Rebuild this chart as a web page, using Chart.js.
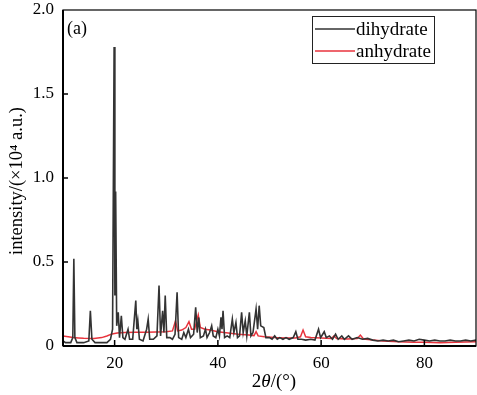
<!DOCTYPE html>
<html>
<head>
<meta charset="utf-8">
<script src="https://cdn.jsdelivr.net/npm/chart.js@4"></script>
<style>
  body { margin: 0; background: #fff; }
  #wrap { width: 477px; height: 395px; }
</style>
</head>
<body>
<div id="wrap"><canvas id="c" width="477" height="395"></canvas></div>
<script>
// values (2theta in degrees, intensity in 1e4 a.u.)
const dihydrateX = [10.0,10.5,11.5,11.9,12.1,12.3,12.7,14.0,15.0,15.3,15.6,16.2,17.0,18.5,19.2,19.6,19.9,20.05,20.2,20.4,20.7,20.95,21.3,21.6,22.0,22.6,22.9,23.5,24.1,24.3,24.5,24.8,25.5,26.2,26.5,26.8,27.5,28.2,28.6,28.9,29.3,29.55,29.8,30.1,30.7,31.2,31.7,32.1,32.4,33.0,33.4,33.8,34.3,34.7,35.3,35.7,36.0,36.3,36.6,37.2,37.6,37.9,38.4,38.8,39.1,39.6,40.0,40.3,40.6,40.8,41.0,41.3,41.8,42.3,42.8,43.1,43.5,43.8,44.2,44.6,44.9,45.3,45.6,46.1,46.4,46.8,47.1,47.4,47.7,48.0,48.3,48.9,49.3,50.0,50.5,51.0,51.5,52.0,52.6,53.2,53.8,54.6,55.1,55.5,56.2,57.0,58.0,58.8,59.5,59.9,60.6,61.0,61.6,62.2,62.8,63.3,64.0,64.5,65.3,66.0,67.0,68.0,69.0,70.0,71.0,72.0,73.0,74.0,75.0,76.0,77.0,78.0,79.0,80.0,81.0,82.0,83.0,84.0,85.0,86.0,87.0,88.0,89.0,90.0];
const dihydrateY = [0.03,0.02,0.02,0.05,0.52,0.05,0.02,0.02,0.03,0.21,0.04,0.02,0.02,0.02,0.04,0.1,1.78,0.3,0.92,0.12,0.2,0.05,0.18,0.05,0.04,0.1,0.04,0.04,0.27,0.1,0.15,0.04,0.03,0.1,0.16,0.04,0.04,0.06,0.36,0.06,0.21,0.08,0.3,0.05,0.05,0.04,0.07,0.32,0.05,0.04,0.08,0.05,0.1,0.05,0.07,0.23,0.08,0.17,0.05,0.06,0.1,0.05,0.08,0.12,0.06,0.05,0.1,0.06,0.17,0.1,0.21,0.05,0.06,0.05,0.16,0.08,0.14,0.05,0.06,0.2,0.08,0.15,0.06,0.2,0.06,0.08,0.15,0.22,0.1,0.24,0.12,0.11,0.05,0.05,0.04,0.06,0.04,0.05,0.04,0.05,0.04,0.05,0.085,0.04,0.04,0.035,0.04,0.035,0.1,0.05,0.085,0.05,0.06,0.04,0.07,0.04,0.06,0.04,0.06,0.04,0.05,0.04,0.045,0.035,0.03,0.035,0.03,0.035,0.025,0.03,0.035,0.03,0.04,0.035,0.03,0.035,0.03,0.03,0.035,0.03,0.03,0.035,0.03,0.035];

const anhydrateX = [10,11,12,13,14,16,17.5,18.5,19.5,20.5,22,24,26,28,30,31.2,31.8,32.2,33.0,33.8,34.4,34.9,35.5,36.2,36.6,37.5,38.5,40,42,44,46,47.0,47.4,47.8,49,51,53,55,56.0,56.5,57.0,58,60,62,62.5,63,65,67,67.6,68.2,70,72,75,78,80,83,86,90];
const anhydrateY = [0.06,0.055,0.05,0.048,0.046,0.045,0.05,0.06,0.072,0.078,0.08,0.082,0.082,0.083,0.085,0.09,0.15,0.09,0.095,0.11,0.145,0.1,0.1,0.185,0.11,0.1,0.095,0.085,0.078,0.07,0.065,0.062,0.085,0.06,0.055,0.05,0.048,0.048,0.055,0.095,0.055,0.05,0.048,0.045,0.06,0.045,0.042,0.045,0.065,0.042,0.035,0.03,0.025,0.022,0.022,0.02,0.022,0.026];

const xTicks = [20, 40, 60, 80];
const yTicks = [0, 0.5, 1.0, 1.5, 2.0];
const seriesNames = ['dihydrate', 'anhydrate'];
const seriesColors = ['#333333', '#e8333c'];

const toPoints = (xs, ys) => xs.map((x, i) => ({x: x, y: ys[i]}));

const SERIF = '"Liberation Serif", "Times New Roman", serif';

// frame, inward ticks, legend box, panel label and axis titles
const decor = {
  id: 'decor',
  afterDraw(chart) {
    const ctx = chart.ctx;
    const a = chart.chartArea;
    const xs = chart.scales.x, ys = chart.scales.y;
    ctx.save();
    ctx.strokeStyle = '#000';
    ctx.lineWidth = 1.2;
    ctx.strokeRect(a.left, a.top, a.right - a.left, a.bottom - a.top);
    ctx.lineWidth = 2;
    ctx.beginPath();
    ctx.moveTo(a.left, a.bottom); ctx.lineTo(a.right, a.bottom);
    ctx.moveTo(a.left, a.top); ctx.lineTo(a.left, a.bottom);
    ctx.stroke();
    ctx.lineWidth = 1.5;
    ctx.beginPath();
    xTicks.forEach(v => {
      const px = xs.getPixelForValue(v);
      ctx.moveTo(px, a.bottom); ctx.lineTo(px, a.bottom - 6);
    });
    yTicks.slice(1, -1).forEach(v => {
      const py = ys.getPixelForValue(v);
      ctx.moveTo(a.left, py); ctx.lineTo(a.left + 5, py);
    });
    ctx.stroke();

    // legend
    ctx.lineWidth = 1;
    ctx.strokeStyle = '#222';
    ctx.strokeRect(312.5, 16.5, 122, 47);
    ctx.font = '19px ' + SERIF;
    ctx.textBaseline = 'middle';
    ctx.fillStyle = '#000';
    seriesNames.forEach((n, i) => {
      const y = 29 + i * 22;
      ctx.strokeStyle = seriesColors[i];
      ctx.lineWidth = 1.3;
      ctx.beginPath(); ctx.moveTo(315, y); ctx.lineTo(355, y); ctx.stroke();
      ctx.fillText(n, 356, y + 1);
    });

    // panel label
    ctx.font = '18px ' + SERIF;
    ctx.fillText('(a)', 67, 29);

    // x title with italic theta
    ctx.textBaseline = 'alphabetic';
    ctx.font = '19px ' + SERIF;
    const p1 = '2', p3 = '/(°)';
    const w1 = ctx.measureText(p1).width, w3 = ctx.measureText(p3).width;
    ctx.font = 'italic 19px ' + SERIF;
    const w2 = ctx.measureText('θ').width;
    let x0 = 274 - (w1 + w2 + w3) / 2;
    ctx.font = '19px ' + SERIF;
    ctx.fillText(p1, x0, 387);
    ctx.font = 'italic 19px ' + SERIF;
    ctx.fillText('θ', x0 + w1, 387);
    ctx.font = '19px ' + SERIF;
    ctx.fillText(p3, x0 + w1 + w2, 387);

    // y title
    ctx.translate(22, 181);
    ctx.rotate(-Math.PI / 2);
    ctx.textAlign = 'center';
    ctx.font = '18.5px ' + SERIF;
    ctx.fillText('intensity/(×10⁴ a.u.)', 0, 0);
    ctx.restore();
  }
};

new Chart(document.getElementById('c'), {
  type: 'line',
  data: {
    datasets: [
      {
        label: seriesNames[0],
        data: toPoints(dihydrateX, dihydrateY),
        borderColor: seriesColors[0],
        borderWidth: 1.6,
        pointRadius: 0,
        tension: 0
      },
      {
        label: seriesNames[1],
        data: toPoints(anhydrateX, anhydrateY),
        borderColor: seriesColors[1],
        borderWidth: 1.5,
        pointRadius: 0,
        tension: 0
      }
    ]
  },
  options: {
    responsive: false,
    animation: false,
    layout: { padding: { top: 10, right: 1, left: 0, bottom: 0 } },
    plugins: { legend: { display: false }, tooltip: { enabled: false } },
    scales: {
      x: {
        type: 'linear',
        min: 10,
        max: 90,
        afterBuildTicks: s => { s.ticks = xTicks.map(v => ({value: v})); },
        afterFit: s => { s.height = 49; s.paddingLeft = 0; s.paddingRight = 0; },
        grid: { display: false, drawTicks: false },
        border: { display: false },
        ticks: { color: '#000', padding: 7, font: { family: SERIF, size: 17 } }
      },
      y: {
        min: 0,
        max: 2,
        afterBuildTicks: s => { s.ticks = yTicks.map(v => ({value: v})); },
        afterFit: s => { s.width = 63; s.paddingTop = 0; s.paddingBottom = 0; },
        grid: { display: false, drawTicks: false },
        border: { display: false },
        ticks: {
          color: '#000', padding: 9, font: { family: SERIF, size: 17 },
          callback: v => v === 0 ? '0' : v.toFixed(1)
        }
      }
    }
  },
  plugins: [decor]
});
</script>
</body>
</html>
